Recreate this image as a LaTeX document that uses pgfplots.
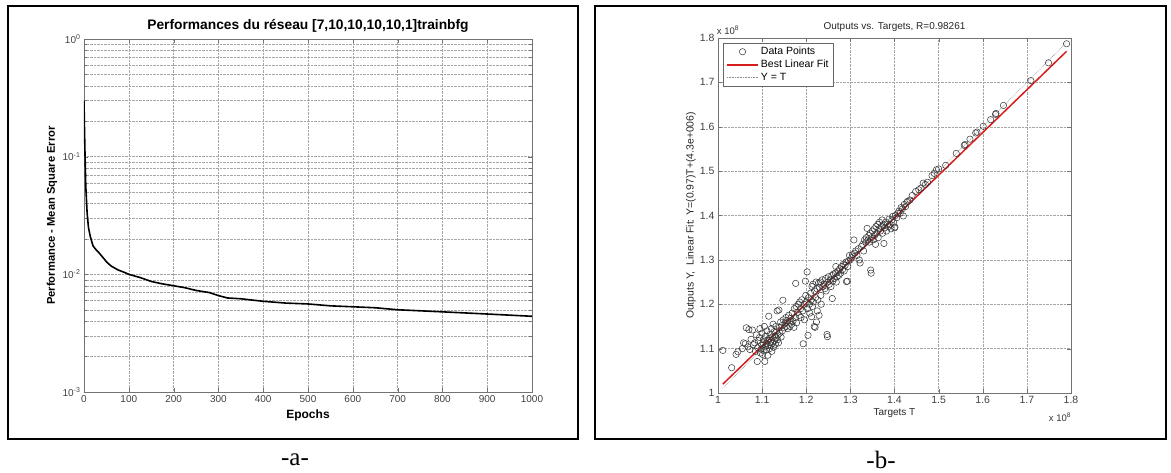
\documentclass[border=0pt]{standalone}
\usepackage{fontspec}
\setmainfont{Liberation Sans}
\newfontfamily\serifa{Liberation Serif}
\usepackage{pgfplots}
\usepackage{pgfplotstable}
\pgfplotsset{compat=1.18}
\pgfplotsset{
  marklegend/.style={legend image code/.code={\draw[##1] plot coordinates {(0.55cm,0cm)};}},
  longline/.style={legend image code/.code={\draw[##1] (0cm,0cm) -- (1.1cm,0cm);}},
}

\pgfplotstableread{
e mse
0 0.30
1 0.18
2.5 0.094
4 0.056
7 0.033
10 0.025
14 0.021
20 0.0175
25 0.0165
35 0.0150
43 0.0138
50 0.0128
60 0.0118
76 0.0109
90 0.0104
100 0.0100
125 0.0094
150 0.0087
175 0.0083
200 0.0080
225 0.0077
250 0.0073
280 0.0070
300 0.0066
320 0.0063
350 0.0062
400 0.0059
450 0.0057
500 0.0056
550 0.0054
600 0.0053
650 0.0052
700 0.0050
750 0.0049
800 0.0048
850 0.0047
900 0.0046
950 0.0045
1000 0.0044
}\perf

\pgfplotstableread{
t y
1.011 1.096
1.031 1.057
1.041 1.087
1.045 1.093
1.055 1.100
1.058 1.113
1.062 1.111
1.064 1.147
1.070 1.143
1.068 1.104
1.072 1.098
1.075 1.121
1.078 1.142
1.080 1.109
1.083 1.113
1.085 1.094
1.087 1.131
1.089 1.071
1.090 1.102
1.092 1.118
1.094 1.125
1.095 1.145
1.096 1.090
1.098 1.099
1.099 1.108
1.100 1.135
1.101 1.087
1.102 1.113
1.103 1.120
1.104 1.095
1.105 1.150
1.106 1.071
1.107 1.104
1.108 1.128
1.109 1.112
1.110 1.097
1.111 1.140
1.112 1.118
1.113 1.085
1.114 1.107
1.115 1.173
1.116 1.123
1.117 1.100
1.118 1.132
1.119 1.115
1.120 1.108
1.121 1.145
1.122 1.094
1.123 1.126
1.124 1.112
1.125 1.155
1.126 1.103
1.127 1.138
1.128 1.118
1.129 1.128
1.130 1.110
1.131 1.150
1.132 1.124
1.133 1.140
1.134 1.185
1.135 1.120
1.136 1.131
1.137 1.113
1.138 1.187
1.139 1.148
1.140 1.135
1.142 1.160
1.143 1.126
1.145 1.152
1.146 1.140
1.147 1.209
1.148 1.165
1.150 1.147
1.152 1.158
1.154 1.170
1.155 1.150
1.157 1.163
1.158 1.145
1.160 1.175
1.162 1.160
1.163 1.150
1.165 1.168
1.167 1.155
1.168 1.180
1.170 1.162
1.172 1.148
1.173 1.190
1.175 1.170
1.176 1.247
1.177 1.195
1.178 1.158
1.180 1.182
1.182 1.200
1.184 1.175
1.185 1.205
1.187 1.190
1.188 1.170
1.190 1.210
1.192 1.185
1.193 1.111
1.195 1.200
1.196 1.165
1.198 1.252
1.199 1.220
1.200 1.205
1.202 1.273
1.203 1.190
1.204 1.130
1.205 1.215
1.207 1.200
1.208 1.180
1.210 1.225
1.211 1.210
1.212 1.172
1.213 1.240
1.214 1.195
1.215 1.245
1.216 1.205
1.218 1.150
1.219 1.230
1.220 1.148
1.221 1.215
1.222 1.250
1.223 1.160
1.224 1.235
1.225 1.185
1.226 1.210
1.228 1.248
1.229 1.175
1.230 1.238
1.232 1.250
1.233 1.220
1.234 1.200
1.236 1.255
1.238 1.240
1.240 1.245
1.242 1.235
1.244 1.258
1.245 1.230
1.247 1.132
1.248 1.127
1.249 1.250
1.250 1.262
1.252 1.245
1.254 1.255
1.256 1.240
1.258 1.265
1.259 1.213
1.260 1.252
1.262 1.268
1.264 1.258
1.266 1.270
1.267 1.285
1.268 1.250
1.270 1.262
1.272 1.275
1.274 1.265
1.276 1.280
1.278 1.270
1.280 1.285
1.282 1.278
1.284 1.290
1.286 1.275
1.288 1.288
1.290 1.295
1.291 1.251
1.293 1.252
1.294 1.285
1.296 1.298
1.298 1.310
1.300 1.300
1.303 1.305
1.305 1.312
1.308 1.345
1.310 1.315
1.312 1.320
1.315 1.310
1.318 1.325
1.320 1.300
1.322 1.293
1.325 1.330
1.328 1.335
1.330 1.320
1.332 1.345
1.335 1.340
1.336 1.350
1.338 1.371
1.340 1.345
1.342 1.355
1.343 1.340
1.345 1.360
1.346 1.277
1.347 1.270
1.348 1.350
1.350 1.365
1.352 1.345
1.354 1.370
1.355 1.355
1.357 1.335
1.358 1.375
1.360 1.360
1.362 1.380
1.363 1.350
1.365 1.370
1.366 1.385
1.368 1.365
1.370 1.375
1.372 1.390
1.373 1.360
1.375 1.380
1.376 1.337
1.378 1.372
1.380 1.385
1.382 1.365
1.384 1.380
1.386 1.375
1.388 1.392
1.390 1.380
1.392 1.370
1.394 1.390
1.396 1.398
1.398 1.385
1.400 1.372
1.401 1.374
1.402 1.400
1.405 1.395
1.408 1.405
1.410 1.410
1.413 1.405
1.415 1.418
1.418 1.415
1.420 1.399
1.422 1.425
1.425 1.420
1.428 1.430
1.430 1.432
1.435 1.435
1.440 1.445
1.448 1.454
1.455 1.458
1.460 1.462
1.465 1.473
1.470 1.470
1.475 1.475
1.485 1.490
1.490 1.495
1.495 1.503
1.500 1.505
1.516 1.513
1.540 1.540
1.558 1.558
1.560 1.560
1.571 1.572
1.584 1.586
1.587 1.588
1.601 1.601
1.618 1.616
1.629 1.628
1.630 1.630
1.647 1.648
1.709 1.704
1.749 1.744
1.790 1.787
}\pts

\definecolor{fitred}{RGB}{214,28,28}

\begin{document}
\begin{tikzpicture}
\path (0pt,0pt) rectangle (1171pt,472pt);
\draw[line width=2.6pt] (8pt,33pt) rectangle (578pt,466pt);
\draw[line width=2.6pt] (595pt,33pt) rectangle (1166pt,466pt);
\node[font=\serifa\fontsize{25}{28}\selectfont, inner sep=0pt] at (295pt,12pt) {-a-};
\node[font=\serifa\fontsize{25}{28}\selectfont, inner sep=0pt] at (881pt,12pt) {-b-};

\begin{axis}[
  at={(84pt,80pt)}, anchor=south west, scale only axis,
  width=448pt, height=353pt,
  ymode=log, xmin=0, xmax=1000, ymin=1e-3, ymax=1,
  xtick={0,100,...,1000},
  ytick={1e-3,1e-2,1e-1,1},
  yticklabels={10\textsuperscript{-3},10\textsuperscript{-2},10\textsuperscript{-1},10\textsuperscript{0}},
  /pgf/number format/assume math mode=true,
  /pgf/number format/set thousands separator={},
  tick label style={font=\fontsize{10}{12}\selectfont, color=black!75},
  grid=both,
  major grid style={densely dotted, black!35},
  minor grid style={densely dotted, black!35},
  axis line style={black!55}, tick style={black!55},
  title={Performances du réseau [7,10,10,10,10,1]trainbfg},
  title style={font=\bfseries\fontsize{13.8}{16}\selectfont, at={(0.5,1)}, anchor=south, yshift=-3pt},
  xlabel={Epochs},
  xlabel style={font=\bfseries\fontsize{12}{14}\selectfont, at={(axis description cs:0.5,0)}, anchor=center, yshift=-23pt},
  ylabel={Performance - Mean Square Error},
  ylabel style={font=\bfseries\fontsize{11.2}{13}\selectfont, at={(axis description cs:0,0.5)}, anchor=center, yshift=32pt},
]
\addplot[black, line width=1.6pt] table[x=e, y=mse] {\perf};
\end{axis}

\begin{axis}[
  at={(718pt,79pt)}, anchor=south west, scale only axis,
  width=353pt, height=355pt,
  xmin=1, xmax=1.8, ymin=1, ymax=1.8,
  xtick={1,1.1,1.2,1.3,1.4,1.5,1.6,1.7,1.8},
  ytick={1,1.1,1.2,1.3,1.4,1.5,1.6,1.7,1.8},
  /pgf/number format/assume math mode=true,
  tick label style={font=\fontsize{10.5}{12}\selectfont, color=black!75},
  grid=major,
  major grid style={densely dotted, black!35},
  axis line style={black!55}, tick style={black!55},
  title={Outputs vs. Targets, R=0.98261},
  title style={font=\fontsize{10}{12}\selectfont, at={(0.5,1)}, anchor=south, yshift=-3pt, color=black!85},
  xlabel={Targets T},
  xlabel style={font=\fontsize{10}{12}\selectfont, at={(axis description cs:0.5,0)}, anchor=center, yshift=-20pt, color=black!85},
  ylabel={Outputs Y,\ \ Linear Fit: Y=(0.97)T+(4.3e+006)},
  ylabel style={font=\fontsize{10.4}{12}\selectfont, at={(axis description cs:0,0.5)}, anchor=center, yshift=27pt, color=black!85},
  legend style={at={(0.014,0.986)}, anchor=north west, draw=black!60, fill=white,
    font=\fontsize{10.5}{12}\selectfont, row sep=0pt, inner xsep=3pt, inner ysep=2pt},
  legend cell align=left,
  clip=false,
]
\addplot[only marks, mark=o, mark size=3.2pt, draw=black!80, mark options={line width=0.5pt}, marklegend] table[x=t, y=y] {\pts};
\addlegendentry{Data Points}
\addplot[fitred, line width=1.5pt, longline] coordinates {(1.011,1.020) (1.790,1.770)};
\addlegendentry{Best Linear Fit}
\addplot[black!45, densely dotted, line width=0.6pt, longline] coordinates {(1.011,1.011) (1.790,1.790)};
\addlegendentry{Y = T}
\node[font=\fontsize{9.5}{11}\selectfont, color=black!80] at (axis description cs:0,1) [xshift=10pt, yshift=8pt] {x 10\textsuperscript{8}};
\node[font=\fontsize{9.5}{11}\selectfont, color=black!80] at (axis description cs:1,0) [xshift=-11pt, yshift=-24pt] {x 10\textsuperscript{8}};
\end{axis}
\end{tikzpicture}
\end{document}
